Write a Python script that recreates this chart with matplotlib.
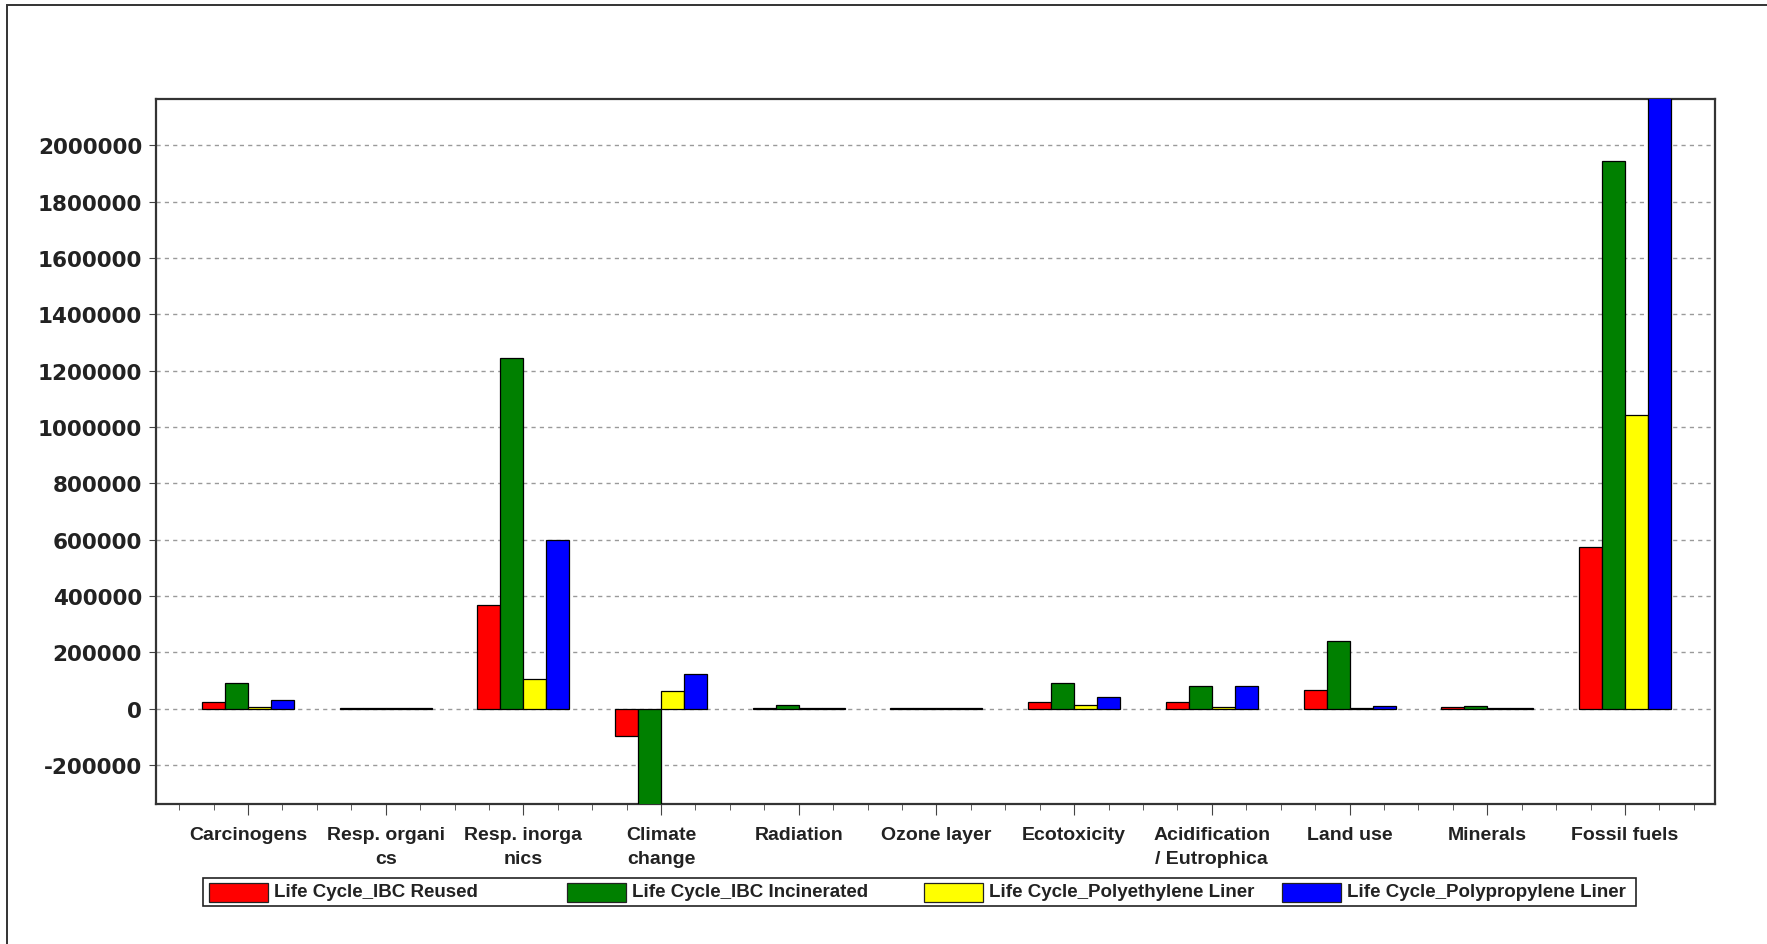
import numpy as np
import matplotlib
matplotlib.use("Agg")
import matplotlib.pyplot as plt
from matplotlib.patches import Rectangle
from matplotlib.ticker import MultipleLocator, FixedLocator

# impact categories and scores for each life cycle scenario
categories = ["Carcinogens", "Resp. organi\ncs", "Resp. inorga\nnics", "Climate\nchange",
              "Radiation", "Ozone layer", "Ecotoxicity", "Acidification\n/ Eutrophica",
              "Land use", "Minerals", "Fossil fuels"]
ibc_reused = [24000, 2000, 367000, -97000, 3000, 1500, 24000, 24000, 68000, 5000, 575000]
ibc_incinerated = [90000, 2000, 1244000, -360000, 12000, 1500, 90000, 82000, 239000, 10000, 1945000]
pe_liner = [8000, 1500, 107000, 64000, 2000, 1500, 14000, 5000, 4000, 2000, 1042000]
pp_liner = [31000, 4000, 598000, 122000, 2000, 1500, 41000, 82000, 9000, 2000, 2200000]

series = [ibc_reused, ibc_incinerated, pe_liner, pp_liner]
names = ["Life Cycle_IBC Reused", "Life Cycle_IBC Incinerated",
         "Life Cycle_Polyethylene Liner", "Life Cycle_Polypropylene Liner"]
colors = ["#ff0000", "#008000", "#ffff00", "#0000ff"]
yticks = list(range(-200000, 2000001, 200000))

W, H = 1767, 945
label_font = ["Liberation Sans", "DejaVu Sans"]

fig = plt.figure(figsize=(W / 100, H / 100), dpi=100)
ax = fig.add_axes([156 / W, 1 - 805 / H, (1715 - 156) / W, (805 - 100) / H])

x = np.arange(len(categories))
bw = 0.167
for i, (vals, c) in enumerate(zip(series, colors)):
    ax.bar(x + (i - 1.5) * bw, vals, width=bw, color=c, edgecolor="black",
           linewidth=0.9, zorder=3)

ax.set_xlim(-0.668, 10.654)
ax.set_ylim(-338000, 2165000)

ax.yaxis.set_major_locator(FixedLocator(yticks))
ax.set_yticklabels([str(v) for v in yticks], fontfamily="DejaVu Sans",
                   fontweight="bold", fontsize=15.5, color="#222222")
ax.yaxis.grid(True, linestyle=(0, (3, 3)), color="#9a9a9a", linewidth=1)
ax.set_axisbelow(True)

ax.set_xticks(x)
ax.set_xticklabels(categories, family=label_font, fontweight="bold",
                   fontsize=14, color="#222222", linespacing=1.5)
ax.xaxis.set_minor_locator(MultipleLocator(0.25))
ax.tick_params(axis="x", which="major", length=8, pad=8, color="#444444")
ax.tick_params(axis="x", which="minor", length=4, color="#444444")
ax.tick_params(axis="y", length=5, pad=5, color="#444444")

for s in ax.spines.values():
    s.set_linewidth(1.6)
    s.set_color("#333333")

# legend row drawn in pixel positions along the bottom
fig.add_artist(Rectangle((203 / W, 1 - 907 / H), (1636 - 203) / W, 28 / H,
                         transform=fig.transFigure, fill=False,
                         edgecolor="#222222", linewidth=1.2))
for i, (name, c) in enumerate(zip(names, colors)):
    x0 = 209 + i * 357.6
    fig.add_artist(Rectangle((x0 / W, 1 - 902.5 / H), 59 / W, 19 / H,
                             transform=fig.transFigure, facecolor=c,
                             edgecolor="#222222", linewidth=0.9))
    fig.text((x0 + 65) / W, 1 - 893 / H, name, family=label_font,
             fontweight="bold", fontsize=13.5, color="#222222",
             ha="left", va="center")

# outer frame
fig.add_artist(Rectangle((6.5 / W, -0.1), 1.2, 1.1 - 6 / H,
                         transform=fig.transFigure, fill=False,
                         edgecolor="#333333", linewidth=1.4))

fig.savefig("out.png", dpi=100, facecolor="white")
